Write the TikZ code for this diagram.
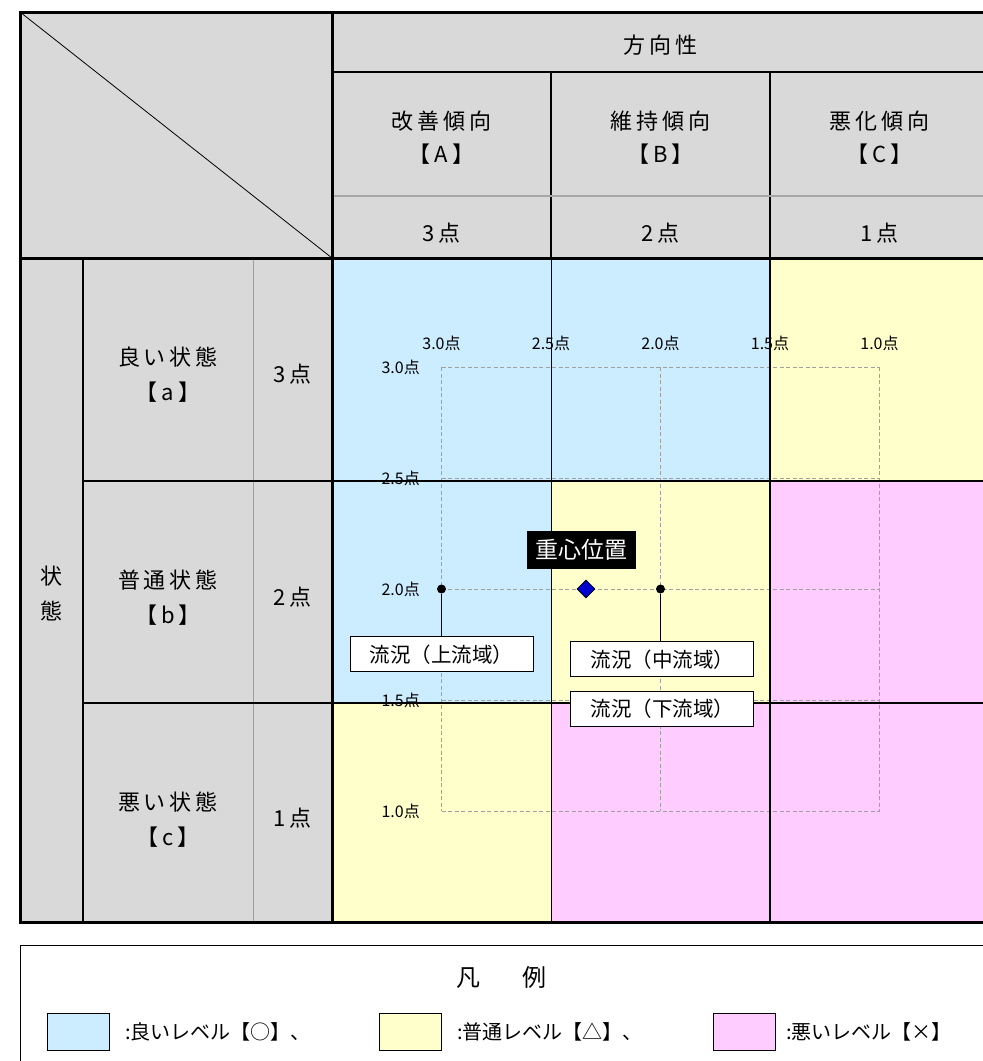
\documentclass[tikz,border=0pt]{standalone}
\usepackage{fontspec}
\setmainfont{Noto Sans CJK JP}
\usepackage{xcolor}
\usepackage{tikz}
\usetikzlibrary{shapes.geometric}
\definecolor{goodblue}{HTML}{CCECFF}
\definecolor{fairyellow}{HTML}{FFFFCC}
\definecolor{poorpink}{HTML}{FFCCFF}
\definecolor{headgray}{HTML}{D9D9D9}
\definecolor{gridgray}{HTML}{A0A0A0}
\definecolor{cogblue}{HTML}{0000CC}
\newcommand{\jfont}[2]{\fontsize{#1}{#2}\selectfont}
\newcommand{\wide}{\addfontfeature{LetterSpace=18}}

\begin{document}
\begin{tikzpicture}[x=1pt,y=-1pt,
  head/.style={font=\jfont{22}{33}\wide, align=center, inner sep=0pt},
  axislab/.style={font=\jfont{16}{18}, inner sep=1pt},
  griddash/.style={gridgray, line width=0.9pt, dash pattern=on 4pt off 2.5pt},
  flowbox/.style={draw, fill=white, line width=1pt, minimum width=183pt, minimum height=35pt, inner sep=0pt, font=\jfont{20.5}{22}},
  flowdot/.style={circle, fill=black, inner sep=0pt, minimum size=9pt},
  swatch/.style={draw, line width=1pt, minimum width=62pt, minimum height=37pt, inner sep=0pt},
  legtext/.style={anchor=west, inner sep=0pt, font=\jfont{20}{22}}]
\useasboundingbox (0,0) rectangle (983,1061);
\clip (0,0) rectangle (983,1061);
\fill[white] (0,0) rectangle (983,1061);
\fill[headgray] (20,12) rectangle (989,258);
\fill[headgray] (20,258) rectangle (332,922);
\foreach \xa/\xb/\ya/\yb/\col in {332/551/258/481/goodblue, 551/770/258/481/goodblue, 770/989/258/481/fairyellow,
  332/551/481/703/goodblue, 551/770/481/703/fairyellow, 770/989/481/703/poorpink,
  332/551/703/922/fairyellow, 551/770/703/922/poorpink, 770/989/703/922/poorpink}
  \fill[\col] (\xa,\ya) rectangle (\xb,\yb);
\foreach \gx in {441.5,551,660.5,770,879.5}
  \draw[griddash] (\gx,367) -- (\gx,811);
\foreach \gy in {367,478,589,700,811}
  \draw[griddash] (441.5,\gy) -- (879.5,\gy);
\draw[gray!75, line width=1pt] (253,258) -- (253,922);
\draw[line width=1pt] (551,258) -- (551,922);
\draw[line width=2pt] (551,72) -- (551,258);
\draw[line width=2pt] (770,72) -- (770,922);
\draw[line width=2pt] (83,481) -- (989,481);
\draw[line width=2pt] (83,703) -- (989,703);
\draw[line width=2pt] (83,258) -- (83,922);
\draw[line width=2pt] (332,72) -- (989,72);
\draw[gray!70, line width=2.5pt] (332,196) -- (989,196);
\draw[line width=0.8pt] (20,12) -- (332,258);
\draw[line width=3pt] (332,12) -- (332,922);
\draw[line width=3pt] (20,258) -- (989,258);
\draw[line width=3pt] (20,12) rectangle (989,922);
\node[head] (dir) at (660.5,45) {方向性};
\node[head] (colA) at (441.5,138) {改善傾向\\【A】};
\node[head] (colB) at (660.5,138) {維持傾向\\【B】};
\node[head] (colC) at (879.5,138) {悪化傾向\\【C】};
\node[head] (ptA) at (441.5,233) {3点};
\node[head] (ptB) at (660.5,233) {2点};
\node[head] (ptC) at (879.5,233) {1点};
\node[head, font=\jfont{22}{35}] (state) at (51,594) {状\\態};
\node[head, font=\jfont{22}{35}\wide] (rowa) at (168,374.5) {良い状態\\【a】};
\node[head, font=\jfont{22}{35}\wide] (rowb) at (168,597.5) {普通状態\\【b】};
\node[head, font=\jfont{22}{35}\wide] (rowc) at (168,819.5) {悪い状態\\【c】};
\node[head] (pta) at (292.5,374.5) {3点};
\node[head] (ptb) at (292.5,597) {2点};
\node[head] (ptc) at (292.5,818) {1点};
\foreach \gx/\lab [count=\k] in {441.5/3.0, 551/2.5, 660.5/2.0, 770/1.5, 879.5/1.0}
  \node[axislab] (top\k) at (\gx,343) {\lab 点};
\foreach \gy/\lab [count=\k] in {367/3.0, 478/2.5, 589/2.0, 700/1.5, 811/1.0}
  \node[axislab, anchor=east] (left\k) at (421,\gy) {\lab 点};
\node[fill=black, text=white, font=\jfont{23}{25}, minimum width=109pt, minimum height=38pt, inner sep=0pt] (coglab) at (581.5,549.5) {重心位置};
\node[diamond, draw=black, fill=cogblue, line width=0.8pt, inner sep=0pt, minimum size=18pt] (cog) at (586,589) {};
\node[flowdot] (up) at (441.5,589) {};
\node[flowdot] (mid) at (660.5,589) {};
\node[flowbox] (upbox) at (441.5,654.3) {流況（上流域）};
\node[flowbox] (midbox) at (662.3,659.2) {流況（中流域）};
\node[flowbox] (lowbox) at (662.3,709) {流況（下流域）};
\draw[line width=1pt] (up) -- (up |- upbox.north);
\draw[line width=1pt] (mid) -- (mid |- midbox.north);
\draw[line width=1pt] (20,945) rectangle (989,1080);
\node[font=\jfont{24}{26}] (legtitle) at (501,977) {凡\hspace{42pt}例};
\node[swatch, fill=goodblue] (swA) at (78,1031.5) {};
\node[legtext] (legA) at (125,1031.5) {:良いレベル【○】、};
\node[swatch, fill=fairyellow] (swB) at (410.5,1031.5) {};
\node[legtext] (legB) at (457,1031.5) {:普通レベル【△】、};
\node[swatch, fill=poorpink] (swC) at (744,1031.5) {};
\node[legtext] (legC) at (786,1031.5) {:悪いレベル【×】};
\end{tikzpicture}
\end{document}
